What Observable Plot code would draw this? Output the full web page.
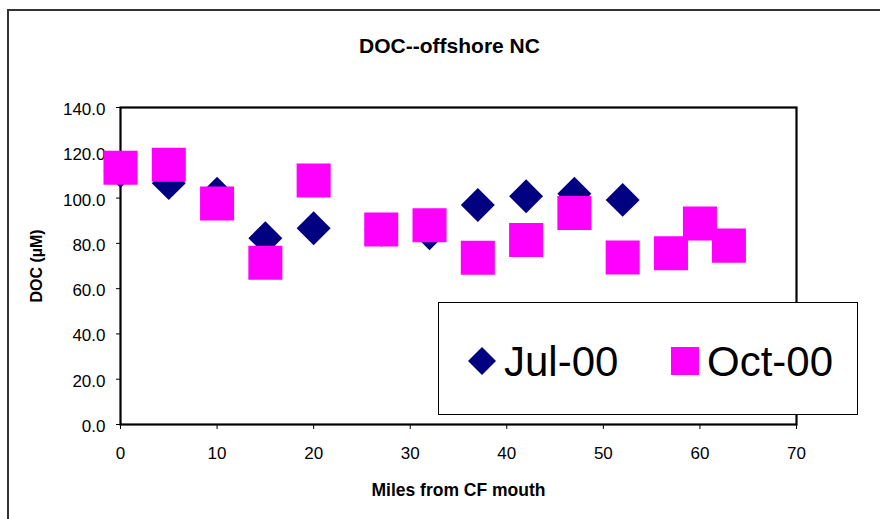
<!DOCTYPE html>
<html>
<head>
<meta charset="utf-8">
<script src="https://cdn.jsdelivr.net/npm/d3@7"></script>
<script src="https://cdn.jsdelivr.net/npm/@observablehq/plot@0.6"></script>
<style>
  body { margin: 0; background: #fff; font-family: "Liberation Sans", Arial, sans-serif; }
  #chart { position: relative; width: 880px; height: 519px; overflow: hidden; background: #fff; }
  #sheet { position: absolute; left: 7px; top: 9px; width: 900px; height: 600px;
           border-top: 2px solid #333; border-left: 2px solid #333; box-sizing: border-box; }
  #plot { position: absolute; left: 0; top: 0; }
  #legend { position: absolute; left: 438px; top: 302px; width: 420px; height: 113px;
            border: 1px solid #000; background: #fff; box-sizing: border-box; }
  .sym { position: absolute; }
  .lab { position: absolute; font-size: 42px; line-height: 42px; color: #000; white-space: nowrap; }
</style>
</head>
<body>
<div id="chart">
  <div id="sheet"></div>
  <div id="plot"></div>
  <div id="legend"></div>
</div>
<script>
// Dissolved organic carbon along the offshore transect, two cruises
const julMiles = [0, 5, 10, 15, 20, 27, 32, 37, 42, 47, 52];
const julDOC   = [112.0, 106.6, 101.9, 82.3, 86.7, 86.0, 84.5, 96.9, 100.8, 101.9, 99.2];
const octMiles = [0, 5, 10, 15, 20, 27, 32, 37, 42, 47, 52, 57, 60, 63];
const octDOC   = [113.4, 114.7, 97.6, 71.4, 107.8, 86.1, 88.0, 73.6, 81.5, 93.4, 73.8, 75.6, 88.8, 79.0];

const seriesNames = ["Jul-00", "Oct-00"];
const seriesColors = ["#000080", "#ff00ff"];
const xTicks = [0, 10, 20, 30, 40, 50, 60, 70];
const yTicks = [0, 20, 40, 60, 80, 100, 120, 140];
const titleText = "DOC--offshore NC";
const xLabel = "Miles from CF mouth";
const yLabel = "DOC (µM)";

const jul = julMiles.map((m, i) => ({miles: m, doc: julDOC[i]}));
const oct = octMiles.map((m, i) => ({miles: m, doc: octDOC[i]}));

const font = "'Liberation Sans', Arial, sans-serif";

const chart = Plot.plot({
  width: 880,
  height: 519,
  marginLeft: 120,
  marginRight: 84,
  marginTop: 107,
  marginBottom: 95,
  style: {fontFamily: font, fontSize: "17px", color: "#000", background: "transparent", overflow: "visible"},
  x: {domain: [0, 70]},
  y: {domain: [0, 140]},
  marks: [
    // tick marks and tick labels are separate so the labels can sit slightly low
    Plot.axisY(yTicks, {tickSize: 4, text: null, label: null}),
    Plot.axisY(yTicks, {tickSize: 0, tickPadding: 15, dy: 2, tickFormat: d => d.toFixed(1), label: null, fontSize: 17}),
    Plot.axisX(xTicks, {tickSize: 5, tickPadding: 17, tickFormat: d => String(d), label: null, fontSize: 17}),
    Plot.frame({stroke: "#000", strokeWidth: 2.2}),
    Plot.dot(jul, {x: "miles", y: "doc", symbol: "diamond2", r: 15.3, fill: seriesColors[0], stroke: "none"}),
    Plot.dot(oct, {x: "miles", y: "doc", symbol: "square", r: 19.2, fill: seriesColors[1], stroke: "none"}),
    Plot.text([titleText], {text: d => d, frameAnchor: "top", dx: -9, dy: -55, lineAnchor: "bottom",
      fontSize: 21, fontWeight: "bold"}),
    Plot.text([xLabel], {text: d => d, frameAnchor: "bottom", dx: 0, dy: 66, lineAnchor: "middle",
      fontSize: 17.5, fontWeight: "bold"}),
    Plot.text([yLabel], {text: d => d, frameAnchor: "left", dx: -84, rotate: -90, textAnchor: "middle",
      lineAnchor: "middle", fontSize: 16, fontWeight: "bold"})
  ]
});
document.getElementById("plot").appendChild(chart);

// Legend box drawn over the lower right of the plot
const legend = d3.select("#legend");
const items = [
  {name: seriesNames[0], color: seriesColors[0], shape: "diamond", symX: 28, labX: 65},
  {name: seriesNames[1], color: seriesColors[1], shape: "square", symX: 231, labX: 268}
];
for (const it of items) {
  const svg = legend.append("svg")
    .attr("class", "sym")
    .attr("width", 30).attr("height", 30)
    .style("left", it.symX + "px").style("top", "43px");
  if (it.shape === "diamond") {
    svg.append("path").attr("d", "M15,1L29,15L15,29L1,15Z").attr("fill", it.color);
  } else {
    svg.append("rect").attr("x", 1).attr("y", 1).attr("width", 28).attr("height", 28).attr("fill", it.color);
  }
  legend.append("div").attr("class", "lab")
    .style("left", it.labX + "px").style("top", "38px")
    .text(it.name);
}
</script>
</body>
</html>
